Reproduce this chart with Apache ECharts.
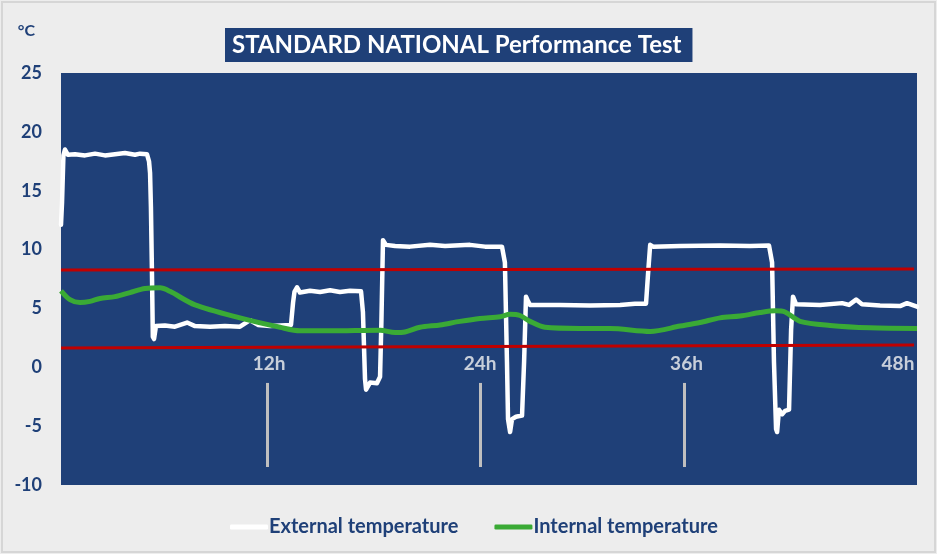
<!DOCTYPE html>
<html>
<head>
<meta charset="utf-8">
<script src="https://cdn.jsdelivr.net/npm/echarts@6/dist/echarts.min.js"></script>
<style>
html,body{margin:0;padding:0;background:#EDEDED;}
#c{width:937px;height:554px;}
</style>
</head>
<body>
<div id="c"></div>
<script>
// Time in hours, temperature in °C
const externalTemp = [
  [0,12.1],[0.06,14],[0.14,18.0],[0.23,18.5],[0.40,18.05],[0.81,18.1],[1.39,18.0],[1.97,18.15],
  [2.54,18.0],[3.12,18.1],[3.70,18.2],[4.28,18.05],[4.57,18.15],[4.97,18.1],[5.09,17.5],[5.15,16.5],
  [5.20,13.6],[5.26,8.0],[5.31,2.6],[5.38,2.4],[5.49,3.5],[6.01,3.55],[6.59,3.45],[7.29,3.8],
  [7.75,3.5],[8.62,3.45],[9.48,3.5],[10.35,3.45],[10.93,4.0],[11.39,3.6],[12.09,3.5],[12.67,3.55],
  [13.30,3.6],[13.42,5.5],[13.50,6.4],[13.65,6.8],[13.82,6.35],[14.40,6.5],[14.98,6.4],[15.56,6.55],
  [16.13,6.4],[16.71,6.5],[17.35,6.45],[17.46,4.7],[17.58,-1.0],[17.64,-1.9],[17.87,-1.3],[18.27,-1.35],
  [18.45,-0.8],[18.53,4],[18.62,10.8],[18.79,10.4],[19.32,10.3],[20.18,10.25],[21.34,10.4],[22.21,10.3],
  [23.65,10.4],[24.52,10.25],[25.50,10.25],[25.67,8.9],[25.79,0.4],[25.85,-4.4],[25.97,-5.5],[26.08,-4.4],
  [26.31,-4.2],[26.66,-4.1],[26.78,0.5],[26.89,6.0],[27.01,5.6],[27.12,5.3],[28.86,5.3],[30.59,5.25],
  [32.33,5.3],[33.19,5.4],[33.83,5.4],[33.95,8],[34.07,10.4],[34.24,10.25],[35.80,10.3],[38.11,10.35],
  [39.84,10.3],[40.94,10.35],[41.12,8.9],[41.23,0.4],[41.35,-5.25],[41.41,-5.5],[41.52,-3.6],[41.70,-4.0],
  [41.87,-3.7],[42.10,-3.6],[42.22,3.2],[42.33,6.0],[42.51,5.35],[43.89,5.3],[45.17,5.45],[45.57,5.3],
  [45.98,5.75],[46.32,5.35],[47.36,5.25],[48.52,5.2],[48.92,5.45],[49.5,5.15]
];
const internalTemp = [
  [0,6.5],[0.52,5.75],[1.10,5.5],[1.68,5.6],[2.26,5.85],[3.12,6.0],[3.99,6.35],[4.86,6.7],[5.73,6.75],
  [6.30,6.45],[7.75,5.3],[10.35,4.2],[12.67,3.4],[13.82,3.1],[15.56,3.1],[18.45,3.15],[19.32,2.95],
  [19.89,3.0],[20.76,3.4],[21.92,3.6],[23.07,3.9],[24.23,4.15],[25.39,4.3],[25.97,4.5],[26.54,4.4],
  [27.12,3.9],[27.99,3.4],[30.01,3.3],[31.75,3.3],[34.07,3.05],[35.80,3.5],[36.95,3.8],[38.11,4.2],
  [39.27,4.35],[40.42,4.65],[41.29,4.8],[41.87,4.7],[42.74,3.9],[44.47,3.55],[46.78,3.35],[49.5,3.3]
];
const upperLimit = [[0,8.27],[49.33,8.35]];
const lowerLimit = [[0,1.64],[49.33,1.9]];
const tickLabels = ['12h','24h','36h','48h'];
const tickLabelHours = [12.03,24.23,36.17,48.4];
const tickMarkHours = [11.91,24.23,36.03];
const tickMarkRange = [-1.33,-8.47];
const yTicks = [-10,-5,0,5,10,15,20,25];

const BLUE = '#1F4078';
const FONT = 'Lato';

const chart = echarts.init(document.getElementById('c'));
chart.setOption({
  backgroundColor: '#EDEDED',
  animation: false,
  textStyle: {fontFamily: FONT},
  title: {
    text: 'STANDARD NATIONAL Performance Test',
    left: 225, top: 28,
    backgroundColor: BLUE,
    padding: [5, 11, 5, 7],
    textStyle: {color: '#FFFFFF', fontSize: 24, lineHeight: 24, fontWeight: 'bold', fontFamily: FONT}
  },
  graphic: [{
    type: 'rect', shape: {x: 2, y: 2, width: 933, height: 550},
    style: {fill: 'none', stroke: '#D6D6D6', lineWidth: 2}, silent: true
  }],
  legend: {
    data: ['External temperature', 'Internal temperature'],
    left: 225, top: 512,
    itemWidth: 38, itemHeight: 5, itemGap: 36,
    icon: 'roundRect',
    textStyle: {color: BLUE, fontSize: 20, fontWeight: 'bold', fontFamily: FONT, padding: [0,0,0,-4]}
  },
  grid: {
    left: 61, right: 20, top: 73, bottom: 69,
    show: true, backgroundColor: BLUE, borderWidth: 0
  },
  xAxis: {
    type: 'value', min: 0, max: 49.5, show: false
  },
  yAxis: {
    type: 'value', min: yTicks[0], max: yTicks[yTicks.length-1], interval: 5,
    name: '°C', nameLocation: 'end', nameGap: 34,
    nameTextStyle: {color: BLUE, fontSize: 16, fontWeight: 'bold', align: 'right', padding: [0, 26, 0, 0]},
    axisLine: {show: false}, axisTick: {show: false}, splitLine: {show: false},
    axisLabel: {color: BLUE, fontSize: 18, fontWeight: 'bold', margin: 19}
  },
  series: [
    {
      name: 'External temperature', type: 'line', data: externalTemp,
      showSymbol: false, smooth: false, z: 3,
      itemStyle: {color: '#FFFFFF'},
      lineStyle: {color: '#FFFFFF', width: 4.5, join: 'round', cap: 'round'}
    },
    {
      name: 'Internal temperature', type: 'line', data: internalTemp,
      showSymbol: false, smooth: 0.3, z: 4,
      itemStyle: {color: '#3AAA35'},
      lineStyle: {color: '#3AAA35', width: 5}
    },
    {
      name: 'upper', type: 'line', data: upperLimit, showSymbol: false, silent: true, z: 5,
      lineStyle: {color: '#C00000', width: 3}
    },
    {
      name: 'lower', type: 'line', data: lowerLimit, showSymbol: false, silent: true, z: 5,
      lineStyle: {color: '#C00000', width: 3}
    },
    {
      name: 'marks', type: 'line', data: [], silent: true, z: 2,
      markLine: {
        symbol: 'none', silent: true, animation: false,
        label: {show: false},
        lineStyle: {color: '#BFBFBF', width: 3, type: 'solid'},
        data: tickMarkHours.map(h => [{coord: [h, tickMarkRange[0]]}, {coord: [h, tickMarkRange[1]]}])
      }
    },
    {
      name: 'hourLabels', type: 'scatter', silent: true, z: 6,
      data: tickLabelHours.map((h, i) => [h, 0.25, tickLabels[i]]),
      symbolSize: 2, itemStyle: {color: 'rgba(0,0,0,0)'},
      label: {
        show: true, position: 'inside', formatter: p => p.value[2],
        color: '#F2F2F2', fontSize: 19, fontWeight: 'bold', fontFamily: FONT
      }
    }
  ]
});
</script>
</body>
</html>
